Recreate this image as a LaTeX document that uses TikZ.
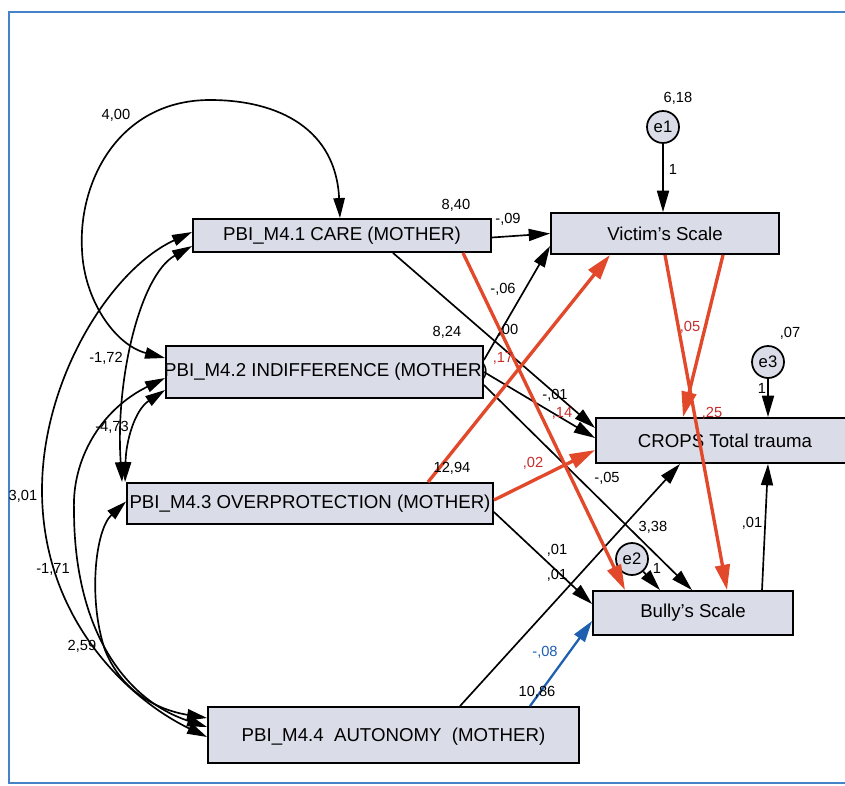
\documentclass[tikz,border=0pt]{standalone}
\usepackage{fontspec}
\setmainfont{Liberation Sans}
\usetikzlibrary{arrows.meta,calc}
\definecolor{boxfill}{RGB}{218,220,232}
\definecolor{pathred}{RGB}{226,72,42}
\definecolor{labred}{RGB}{200,45,45}
\definecolor{pathblue}{RGB}{30,95,175}
\definecolor{frameblue}{RGB}{70,130,200}
\begin{document}
\begin{tikzpicture}[x=0.75pt,y=-0.75pt,
 box/.style={draw=black,line width=1.4pt,fill=boxfill,rectangle,inner sep=0pt},
 boxtxt/.style={font=\fontsize{14}{16}\selectfont,inner sep=0pt},
 err/.style={draw=black,line width=1.3pt,fill=boxfill,circle,minimum size=24pt,inner sep=0pt,font=\fontsize{12.5}{14}\selectfont},
 lab/.style={font=\fontsize{11}{12}\selectfont,inner sep=0pt},
 rlab/.style={lab,text=labred},
 blab/.style={lab,text=pathblue},
 pth/.style={line width=1.25pt,-{Triangle[length=16pt,width=9pt]}},
 rpth/.style={line width=2.5pt,draw=pathred,-{Triangle[length=19pt,width=11pt]}},
 bpth/.style={line width=1.7pt,draw=pathblue,-{Triangle[length=16pt,width=9.5pt]}},
 cov/.style={line width=1.25pt,{Triangle[length=15pt,width=8.5pt]}-{Triangle[length=15pt,width=8.5pt]}},
]
\clip (0,0) rectangle (845,785);
\fill[white] (0,0) rectangle (845,785);
% frame
\draw[frameblue,line width=1.1pt] (860,12) -- (9,12) -- (9,783) -- (860,783);

% boxes
\node[box,minimum width=223.5pt,minimum height=24.75pt] (care) at (342,235.5) {};
\node[boxtxt] (caret) at (care) {PBI\_M4.1 CARE (MOTHER)};
\node[box,minimum width=171pt,minimum height=30.75pt] (vic) at (665,233.5) {};
\node[boxtxt] (vict) at (vic) {Victim's Scale};
\node[box,minimum width=237.75pt,minimum height=39pt] (ind) at (324.5,372) {};
\node[boxtxt] (indt) at (326,372) {PBI\_M4.2 INDIFFERENCE (MOTHER)};
\node[box,minimum width=274.5pt,minimum height=30.75pt] (over) at (310,503.5) {};
\node[boxtxt] (overt) at (over) {PBI\_M4.3 OVERPROTECTION (MOTHER)};
\node[box,minimum width=190.5pt,minimum height=33.75pt] (crops) at (723,440.5) {};
\node[boxtxt] (cropst) at (725,440.5) {CROPS Total trauma};
\node[box,minimum width=150pt,minimum height=33pt] (bully) at (693,613) {};
\node[boxtxt] (bullyt) at (bully) {Bully's Scale};
\node[box,minimum width=278.25pt,minimum height=42pt] (aut) at (393.5,735) {};
\node[boxtxt] (autt) at (393.5,737) {PBI\_M4.4\ \ AUTONOMY\ \ (MOTHER)};

% error terms
\node[err] (e1) at (663,127) {e1};
\node[err] (e2) at (632,559) {e2};
\node[err] (e3) at (768,362) {e3};

% covariances
\draw[cov] ($(care.north)+(-2,0)$) .. controls (336,130) and (280,100) .. (210,100) .. controls (120,100) and (78,180) .. (82,250) .. controls (84,300) and (115,345) .. ($(ind.west)+(0,-14)$);
\draw[cov] ($(care.west)+(0,10.5)$) .. controls (140,275) and (115,380) .. ($(over.north west)+(-4,0)$);
\draw[cov] ($(care.west)+(0,-3.5)$) .. controls (110,270) and (42,380) .. (42,490) .. controls (42,620) and (130,700) .. ($(aut.west)+(0,2)$);
\draw[cov] ($(ind.west)+(0,18)$) .. controls (135,410) and (126,440) .. ($(over.north west)+(-1,0)$);
\draw[cov] ($(ind.west)+(0,6)$) .. controls (100,410) and (72,460) .. (74,510) .. controls (74,630) and (125,700) .. ($(aut.west)+(0,-8)$);
\draw[cov] ($(over.west)+(0,-2)$) .. controls (95,530) and (88,600) .. (105,650) .. controls (125,700) and (170,712) .. ($(aut.west)+(0,-17)$);

% black paths
\draw[pth] ($(care.east)+(0,2)$) -- (vic.west);
\draw[pth] ($(care.south)+(51,0)$) -- ($(crops.west)+(0,-12.5)$);
\draw[pth] ($(ind.east)+(0,-12)$) -- ($(vic.west)+(0,12.5)$);
\draw[pth] (ind.east) -- ($(crops.west)+(0,-2.5)$);
\draw[pth] ($(ind.east)+(0,13)$) -- ($(bully.north)+(-1,0)$);
\draw[pth] ($(over.east)+(0,8.5)$) -- ($(bully.west)+(0,-9)$);
\draw[pth] ($(aut.north)+(66.5,0)$) -- ($(crops.south)+(-43,0)$);
\draw[pth] ($(bully.north)+(69,0)$) -- ($(crops.south)+(45,0)$);
\draw[pth] (e1) -- (e1 |- vic.north);
\draw[pth] (e2) -- ($(bully.north)+(-33,0)$);
\draw[pth] (e3) -- (e3 |- crops.north);

% red paths
\draw[rpth] ($(care.south)+(121,0)$) -- ($(bully.north)+(-68,0)$);
\draw[rpth] ($(over.north)+(118,0)$) -- ($(vic.south)+(-55,0)$);
\draw[rpth] ($(over.east)+(0,-3.5)$) -- ($(crops.west)+(0,9.5)$);
\draw[rpth] ($(vic.south)+(58,0)$) -- ($(crops.north)+(-40,0)$);
\draw[rpth] (vic.south) -- ($(bully.north)+(34,0)$);

% blue path
\draw[bpth] ($(aut.north)+(136.5,0)$) -- ($(bully.west)+(0,8)$);

% labels
\node[lab] (l400) at (116,115) {4,00};
\node[lab] (l840) at (456,205) {8,40};
\node[lab] (l09) at (508,219) {-,09};
\node[lab] (l618) at (678,98) {6,18};
\node[lab] (le1) at (673,169) {1};
\node[lab] (l06) at (503,289) {-,06};
\node[lab] (l824) at (447,332) {8,24};
\node[lab] (l00) at (508,330) {,00};
\node[lab] (l01a) at (555,395) {-,01};
\node[lab] (l172) at (106,358) {-1,72};
\node[lab] (l473) at (112,427) {-4,73};
\node[lab] (l301) at (23,496) {3,01};
\node[lab] (l1294) at (452,468) {12,94};
\node[lab] (l05) at (607,478) {-,05};
\node[lab] (l338) at (653,527) {3,38};
\node[lab] (l01b) at (557,550) {,01};
\node[lab] (l01c) at (557,575) {,01};
\node[lab] (le2) at (657,568) {1};
\node[lab] (l01d) at (752,523) {,01};
\node[lab] (l07) at (790,333) {,07};
\node[lab] (le3) at (762,388) {1};
\node[lab] (l171) at (53,569) {-1,71};
\node[lab] (l259) at (82,646) {2,59};
\node[lab] (l1086) at (537,692) {10,86};
\node[rlab] (r17) at (503,358) {,17};
\node[rlab] (r14) at (562,413) {,14};
\node[rlab] (r05) at (690,327) {,05};
\node[rlab] (r25) at (712,413) {,25};
\node[rlab] (r02) at (533,463) {,02};
\node[blab] (b08) at (545,652) {-,08};
\end{tikzpicture}
\end{document}
